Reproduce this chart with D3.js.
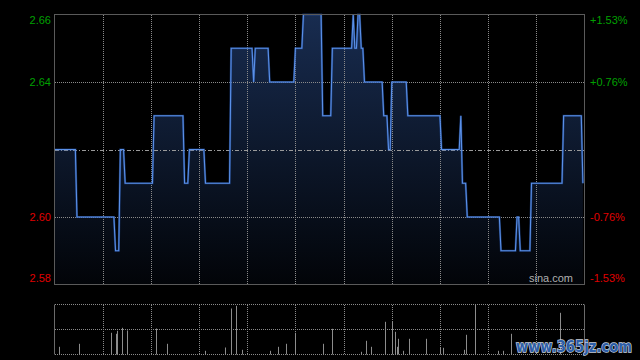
<!DOCTYPE html>
<html><head><meta charset="utf-8">
<script src="https://cdn.jsdelivr.net/npm/d3@7/dist/d3.min.js"></script>
<style>html,body{margin:0;padding:0;background:#000;}svg{display:block;}</style>
</head><body>
<svg id="c" width="640" height="360"></svg>
<script>
// ---- data ----
const prevClose = 2.62;
const priceTicks = [2.66, 2.64, 2.60, 2.58];
const priceTickLabels = ["2.66", "2.64", "2.60", "2.58"];
const pctTickLabels = ["+1.53%", "+0.76%", "-0.76%", "-1.53%"];
const gridMinutes = [30, 60, 90, 120, 150, 180, 210, 240, 270, 300];
// line vertices: trading minute index (0..330) and price
const minutes = [0,13,14,37,38,40,41,43,44,61,62,80,81,83,84,93,94,109,110,123,124,125,133,134,149,150,154,155,166,167,172,173,185,186,187,188,189,190,191,192,193,204,205,207,208,209,210,219,220,240,241,252,253,254,256,257,277,278,287,288,289,290,296,297,316,317,328,329];
const prices  = [2.62,2.62,2.60,2.60,2.59,2.59,2.62,2.62,2.61,2.61,2.63,2.63,2.61,2.61,2.62,2.62,2.61,2.61,2.65,2.65,2.64,2.65,2.65,2.64,2.64,2.65,2.65,2.66,2.66,2.63,2.63,2.65,2.65,2.66,2.65,2.65,2.66,2.66,2.65,2.65,2.64,2.64,2.63,2.63,2.62,2.62,2.64,2.64,2.63,2.63,2.62,2.62,2.63,2.61,2.61,2.60,2.60,2.59,2.59,2.60,2.60,2.59,2.59,2.61,2.61,2.63,2.63,2.61];
// volume bars: minute index and volume (thousand shares)
const volMinutes = [3,15,35,38,39,42,45,63,70,94,106,110,113,117,134,139,144,150,167,173,191,194,197,206,210,212,213,214,217,221,231,240,242,255,256,262,276,279,284,315];
const volumes    = [77,107,217,207,237,267,240,260,107,37,70,460,487,47,37,77,107,217,107,257,27,137,77,327,327,227,77,157,37,157,157,67,67,47,197,500,37,37,207,417];

// ---- layout ----
const L = 54.5, R = 584.5, T = 14.5, B = 284.5;
const VT = 304.5, VB = 354.5;
const svg = d3.select("#c");
svg.append("rect").attr("width",640).attr("height",360).attr("fill","#000");

const x = d3.scaleLinear().domain([0, 330]).range([L, R]);
const y = d3.scaleLinear().domain([2.58, 2.66]).range([B, T]);
const yv = d3.scaleLinear().domain([0, d3.max(volumes)]).range([VB, VT]);

const defs = svg.append("defs");
const grad = defs.append("linearGradient").attr("id","g").attr("gradientUnits","userSpaceOnUse")
  .attr("x1",0).attr("x2",0).attr("y1",T).attr("y2",B);
grad.append("stop").attr("offset","0%").attr("stop-color","#182c50");
grad.append("stop").attr("offset","100%").attr("stop-color","#020408");

const pts = minutes.map((m,i)=>[m, prices[i]]);

// area
svg.append("path").datum(pts)
  .attr("d", d3.area().x(d=>x(d[0])).y0(B).y1(d=>y(d[1])))
  .attr("fill","url(#g)");

// grid (dotted, starting on whole pixels so dots stay crisp)
const grid = svg.append("g").attr("stroke","#8a8a8a").attr("stroke-width",1).attr("stroke-dasharray","1,1");
gridMinutes.forEach(m=>{
  const gx = Math.round(x(m))+0.5;
  grid.append("line").attr("x1",gx).attr("x2",gx).attr("y1",15).attr("y2",284);
  grid.append("line").attr("x1",gx).attr("x2",gx).attr("y1",305).attr("y2",354);
});
[2.64, 2.60].forEach(p=>{
  const gy = Math.round(y(p))+0.5;
  grid.append("line").attr("x1",55).attr("x2",584).attr("y1",gy).attr("y2",gy);
});
// prev close line
svg.append("line").attr("x1",55).attr("x2",584)
  .attr("y1",Math.round(y(prevClose))+0.5).attr("y2",Math.round(y(prevClose))+0.5)
  .attr("stroke","#9a9a9a").attr("stroke-dasharray","4,2,1,2");

// price line
svg.append("path").datum(pts)
  .attr("d", d3.line().x(d=>x(d[0])).y(d=>y(d[1])))
  .attr("fill","none").attr("stroke","#2a5ab0").attr("stroke-width",2.2).attr("stroke-opacity",0.55);
svg.append("path").datum(pts)
  .attr("d", d3.line().x(d=>x(d[0])).y(d=>y(d[1])))
  .attr("fill","none").attr("stroke","#5a90e8").attr("stroke-width",1.1);

// plot border
svg.append("rect").attr("x",L).attr("y",T).attr("width",R-L).attr("height",B-T)
  .attr("fill","none").attr("stroke","#5a5a5a");

// axis labels
const fnt = "'Liberation Sans', Arial, sans-serif";
priceTicks.forEach((p,i)=>{
  let ty = y(p);
  if (i===0) ty = T + 6;
  if (i===priceTicks.length-1) ty = B - 6;
  const col = p > prevClose ? "#00a000" : "#e00000";
  svg.append("text").attr("x",51).attr("y",ty).attr("dy","0.35em").attr("text-anchor","end")
    .attr("font-family",fnt).attr("font-size",11).attr("fill",col).text(priceTickLabels[i]);
  svg.append("text").attr("x",590).attr("y",ty).attr("dy","0.35em").attr("text-anchor","start")
    .attr("font-family",fnt).attr("font-size",11).attr("fill",col).text(pctTickLabels[i]);
});

svg.append("text").attr("x",573).attr("y",282).attr("text-anchor","end")
  .attr("font-family",fnt).attr("font-size",11).attr("fill","#b0b0b0").text("sina.com");

// volume panel
const vg = svg.append("g").attr("stroke","#8a8a8a").attr("stroke-dasharray","1,1");
[VT, (VT+VB)/2, VB].forEach(vy=>{
  vg.append("line").attr("x1",55).attr("x2",584).attr("y1",vy).attr("y2",vy);
});
svg.append("line").attr("x1",L).attr("x2",L).attr("y1",VT).attr("y2",VB).attr("stroke","#6a6a6a");
svg.append("line").attr("x1",R).attr("x2",R).attr("y1",VT).attr("y2",VB).attr("stroke","#6a6a6a");

svg.append("g").selectAll("line").data(volMinutes).join("line")
  .attr("x1",(m)=>Math.round(x(m))+0.5).attr("x2",(m)=>Math.round(x(m))+0.5)
  .attr("y1",VB).attr("y2",(m,i)=>yv(volumes[i]))
  .attr("stroke","#8c8c8c").attr("stroke-width",1);

// watermark
svg.append("text").attr("x",516).attr("y",352)
  .attr("font-family","'DejaVu Sans', Verdana, sans-serif").attr("font-weight","bold")
  .attr("font-size",15).attr("textLength",116).attr("lengthAdjust","spacingAndGlyphs")
  .attr("fill","#2d5ea8").attr("stroke","#c8d0dc").attr("stroke-width",1.4)
  .attr("paint-order","stroke").text("www.365jz.com");
</script>
</body></html>
